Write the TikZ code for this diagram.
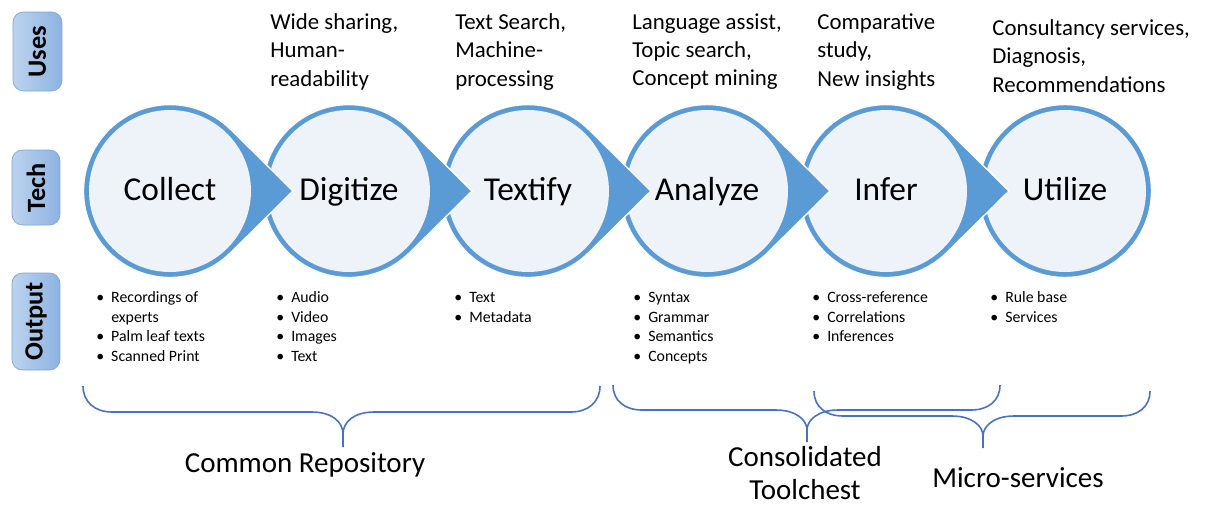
\documentclass[tikz,border=0pt]{standalone}
\usepackage{fontspec}
\setmainfont{Carlito}

\definecolor{stageblue}{HTML}{5B9BD5}
\definecolor{stagefill}{HTML}{EEF3FA}
\definecolor{braceblue}{HTML}{4472C4}
\definecolor{tablight}{HTML}{BCD3EE}
\definecolor{tabdark}{HTML}{8DB3E2}
\definecolor{tabedge}{HTML}{7FA5D6}

\tikzset{
	sidetab/.style={draw=tabedge, rounded corners=6pt, left color=tablight, right color=tabdark, rotate=90, inner sep=0pt, font=\fontsize{15}{18}\selectfont\bfseries},
	stagecircle/.style={circle, fill=stagefill, minimum size=3.24cm, inner sep=0pt, text height=1.03em, text depth=0em, font=\fontsize{19}{22}\selectfont},
	teardrop/.style={fill=stageblue, draw=white, line width=0.8pt},
	usetext/.style={anchor=north west, align=left, inner sep=0pt, font=\fontsize{13}{16.2}\selectfont},
	outtext/.style={anchor=north west, inner sep=0pt, font=\fontsize{9}{11.3}\selectfont},
	groupname/.style={align=center, inner sep=0pt, font=\fontsize{16.5}{19}\selectfont},
	bracecurve/.style={draw=braceblue, line width=0.9pt}
}

\begin{document}
\begin{tikzpicture}[x=0.02cm, y=-0.02cm]
			\useasboundingbox (0,0) rectangle (1206,505);

			% row headers
			\draw (37.5, 51.5) 	node[sidetab, minimum width=1.58cm, minimum height=0.98cm] 	(uses) 		{Uses};
			\draw (36, 187.5) 	node[sidetab, minimum width=1.50cm, minimum height=0.96cm] 	(tech) 		{Tech};
			\draw (36, 321.5) 	node[sidetab, minimum width=1.94cm, minimum height=0.96cm] 	(output) 	{Output};

			% stages, drawn right to left so each tip lies over the next circle
			\fill[teardrop] (1065,191) circle[radius=86.5];
			\draw (1065, 191) 	node[stagecircle] 	(utilize) 	{Utilize};
			\fill[teardrop] (1009,191) -- (946.8,252.5) arc[start angle=45.3, end angle=314.7, radius=86.5] -- cycle;
			\draw (886, 191) 	node[stagecircle] 	(infer) 	{Infer};
			\fill[teardrop] (830,191) -- (767.8,252.5) arc[start angle=45.3, end angle=314.7, radius=86.5] -- cycle;
			\draw (707, 191) 	node[stagecircle] 	(analyze) 	{Analyze};
			\fill[teardrop] (651,191) -- (588.8,252.5) arc[start angle=45.3, end angle=314.7, radius=86.5] -- cycle;
			\draw (528, 191) 	node[stagecircle] 	(textify) 	{Textify};
			\fill[teardrop] (472,191) -- (409.8,252.5) arc[start angle=45.3, end angle=314.7, radius=86.5] -- cycle;
			\draw (349, 191) 	node[stagecircle] 	(digitize) 	{Digitize};
			\fill[teardrop] (293,191) -- (230.8,252.5) arc[start angle=45.3, end angle=314.7, radius=86.5] -- cycle;
			\draw (170, 191) 	node[stagecircle] 	(collect) 	{Collect};

			% uses
			\draw (270, 13) 	node[usetext] 	(usedigitize) 	{Wide sharing,\\Human-\\readability};
			\draw (455, 13) 	node[usetext] 	(usetextify) 	{Text Search,\\Machine-\\processing};
			\draw (632, 13) 	node[usetext] 	(useanalyze) 	{Language assist,\\Topic search,\\Concept mining};
			\draw (817, 13) 	node[usetext] 	(useinfer) 		{Comparative\\study,\\New insights};
			\draw (992, 19) 	node[usetext] 	(useutilize) 	{Consultancy services,\\Diagnosis,\\Recommendations};

			% outputs
			\draw (96, 288) 	node[outtext] 	(outcollect) 	{\begin{tabular}{@{}l@{\hspace{4pt}}l@{}}\textbullet & Recordings of\\ & experts\\ \textbullet & Palm leaf texts\\ \textbullet & Scanned Print\end{tabular}};
			\draw (276, 288) 	node[outtext] 	(outdigitize) 	{\begin{tabular}{@{}l@{\hspace{4pt}}l@{}}\textbullet & Audio\\ \textbullet & Video\\ \textbullet & Images\\ \textbullet & Text\end{tabular}};
			\draw (454, 288) 	node[outtext] 	(outtextify) 	{\begin{tabular}{@{}l@{\hspace{4pt}}l@{}}\textbullet & Text\\ \textbullet & Metadata\end{tabular}};
			\draw (633, 288) 	node[outtext] 	(outanalyze) 	{\begin{tabular}{@{}l@{\hspace{4pt}}l@{}}\textbullet & Syntax\\ \textbullet & Grammar\\ \textbullet & Semantics\\ \textbullet & Concepts\end{tabular}};
			\draw (812, 288) 	node[outtext] 	(outinfer) 		{\begin{tabular}{@{}l@{\hspace{4pt}}l@{}}\textbullet & Cross-reference\\ \textbullet & Correlations\\ \textbullet & Inferences\end{tabular}};
			\draw (990, 288) 	node[outtext] 	(oututilize) 	{\begin{tabular}{@{}l@{\hspace{4pt}}l@{}}\textbullet & Rule base\\ \textbullet & Services\end{tabular}};

			% groupings
			\draw[bracecurve] (83,386) .. controls (83,402) and (95,412) .. (112,412) -- (312,412) .. controls (332,412) and (343,422) .. (343,434) -- (343,447)
				(343,434) .. controls (343,422) and (354,412) .. (374,412) -- (571,412) .. controls (588,412) and (600,402) .. (600,386);
			\draw[bracecurve] (613,385) .. controls (613,401) and (625,410) .. (642,410) -- (776,410) .. controls (796,410) and (807,420) .. (807,430) -- (807,442)
				(807,430) .. controls (807,420) and (818,410) .. (838,410) -- (971,410) .. controls (988,410) and (1000,401) .. (1000,385);
			\draw[bracecurve] (814,391) .. controls (814,407) and (826,416) .. (843,416) -- (952,416) .. controls (972,416) and (983,426) .. (983,436) -- (983,448)
				(983,436) .. controls (983,426) and (994,416) .. (1014,416) -- (1121,416) .. controls (1138,416) and (1150,407) .. (1150,391);

			\draw (305, 465) 	node[groupname] 	(repository) 	{Common Repository};
			\draw (805, 473) 	node[groupname] 	(toolchest) 	{Consolidated\\Toolchest};
			\draw (1018, 478) 	node[groupname] 	(microservices) {Micro-services};
		\end{tikzpicture}
\end{document}
